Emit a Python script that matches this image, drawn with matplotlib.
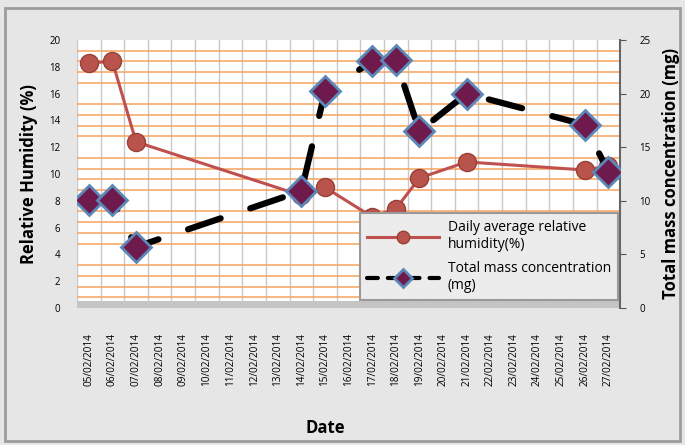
import numpy as np
import matplotlib
matplotlib.use("Agg")
import matplotlib.pyplot as plt
from matplotlib.patches import Rectangle

plt.rcParams['font.family'] = ['Open Sans', 'DejaVu Sans']

# Sampling days, 05/02/2014 .. 27/02/2014
dates = [f"{d:02d}/02/2014" for d in range(5, 28)]

# Days with measurements
humidity_days = ["05/02/2014", "06/02/2014", "07/02/2014", "14/02/2014", "15/02/2014",
                 "17/02/2014", "18/02/2014", "19/02/2014", "21/02/2014", "26/02/2014",
                 "27/02/2014"]
humidity = [18.3, 18.4, 12.4, 8.4, 9.0, 6.8, 7.4, 9.7, 10.9, 10.3, 10.6]

mass_days = humidity_days
mass = [10.1, 10.1, 5.7, 10.9, 20.2, 23.0, 23.1, 16.5, 20.0, 17.1, 12.7]

left_ticks = list(range(0, 21, 2))
right_ticks = list(range(0, 26, 5))

x_hum = [dates.index(d) for d in humidity_days]
x_mass = [dates.index(d) for d in mass_days]

fig = plt.figure(figsize=(6.85, 4.45), dpi=100, facecolor='#e6e6e6')
ax1 = fig.add_axes([0.1124, 0.308, 0.793, 0.602])
ax2 = ax1.twinx()

ax1.set_facecolor('white')
ax1.set_xlim(-0.5, len(dates) - 0.5)
ax1.set_ylim(0, 20)
ax2.set_ylim(0, 25)

# grid: orange lines every 1 mg, gray lines between days
ax1.set_yticks(left_ticks)
ax1.set_yticks(np.arange(0, 20.01, 0.8), minor=True)
ax1.set_xticks(range(len(dates)))
ax1.set_xticks(np.arange(-0.5, len(dates), 1), minor=True)
ax1.grid(which='minor', axis='y', color='#f7a35c', lw=1.1, zorder=0)
ax1.grid(which='minor', axis='x', color='#c8c8c8', lw=1.0, zorder=0)
ax1.set_axisbelow(True)
ax1.axhspan(-0.1, 0.55, color='#c4c4c4', zorder=0.5, lw=0)

ax1.plot(x_hum, humidity, color='#c0504d', lw=2.2, marker='o', ms=13,
         mfc='#b9544c', mec='#9a3f38', mew=1, zorder=3,
         label='Daily average relative\nhumidity(%)')
ax2.plot(x_mass, mass, color='black', lw=4.5, ls=(0, (5.5, 5)),
         dash_capstyle='round', marker='D', ms=15, mfc='#6e1a4c',
         mec='#5b88b8', mew=2, zorder=3,
         label='Total mass concentration\n(mg)')

ax1.set_xticklabels(dates, rotation=90, fontsize=7.2)
ax1.tick_params(axis='x', which='both', length=0, pad=18)
ax1.tick_params(axis='y', which='both', length=0, pad=12, labelsize=7)
ax2.set_yticks(right_ticks)
ax2.tick_params(axis='y', length=4, pad=10, labelsize=7, color='#555555')

for ax in (ax1, ax2):
    for s in ax.spines.values():
        s.set_visible(False)
ax2.spines['right'].set_visible(True)
ax2.spines['right'].set_color('#666666')
ax2.spines['right'].set_linewidth(1.5)

ax1.set_ylabel('Relative Humidity (%)', fontsize=12, fontweight='bold', labelpad=8)
ax2.set_ylabel('Total mass concentration (mg)', fontsize=12, fontweight='bold', labelpad=8)
fig.text(0.475, 0.038, 'Date', fontsize=12, fontweight='bold', ha='center', va='center')

h1, l1 = ax1.get_legend_handles_labels()
h2, l2 = ax2.get_legend_handles_labels()
leg = ax2.legend(h1 + h2, l1 + l2, loc='lower left',
                 bbox_to_anchor=(0.526, 0.326), bbox_transform=fig.transFigure,
                 fontsize=10, handlelength=5.2, handletextpad=0.6, frameon=True,
                 fancybox=False, facecolor='#ececec', edgecolor='#9a9a9a',
                 framealpha=1, borderpad=0.5, labelspacing=0.6, borderaxespad=0)
leg.get_frame().set_linewidth(1.5)
leg.set_zorder(10)
for hl in leg.legend_handles:
    hl.set_markersize(9)
leg.legend_handles[1].set_linewidth(3)
leg.legend_handles[1].set_dashes((2.6, 2.4))

# outer chart border
fig.patches.append(Rectangle((0.008, 0.01), 0.984, 0.972, transform=fig.transFigure,
                             fill=False, edgecolor='#9c9c9c', lw=2))

fig.savefig('out.png', dpi=100, facecolor=fig.get_facecolor())
